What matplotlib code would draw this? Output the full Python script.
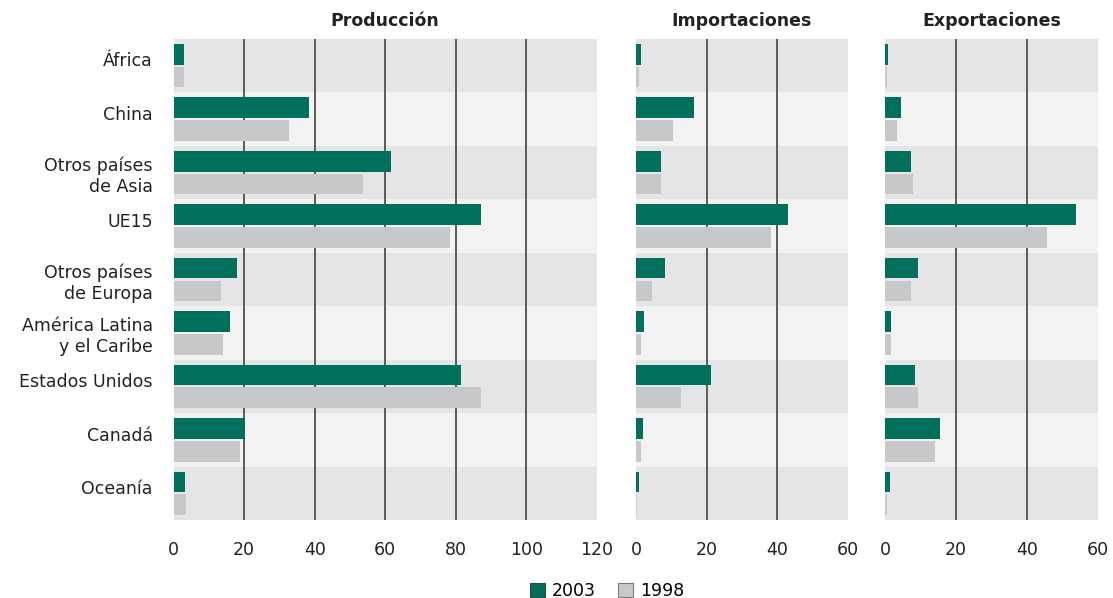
from matplotlib import pyplot as plt
from matplotlib.patches import Patch
import matplotlib.transforms as mtransforms
import numpy as np

plt.rcParams['font.family'] = ['DejaVu Sans']

# regions, top to bottom
regiones = ["África", "China", "Otros países\nde Asia", "UE15",
            "Otros países\nde Europa", "América Latina\ny el Caribe",
            "Estados Unidos", "Canadá", "Oceanía"]

prod_2003 = [3.1, 38.4, 61.7, 87.1, 18.0, 16.1, 81.5, 20.3, 3.4]
prod_1998 = [3.0, 32.7, 53.8, 78.3, 13.5, 14.0, 87.2, 18.9, 3.5]

imp_2003 = [1.5, 16.3, 7.1, 43.1, 8.2, 2.3, 21.1, 2.0, 0.8]
imp_1998 = [0.8, 10.4, 7.1, 38.3, 4.4, 1.5, 12.8, 1.5, 0.4]

exp_2003 = [0.8, 4.5, 7.3, 53.8, 9.4, 1.6, 8.5, 15.5, 1.3]
exp_1998 = [0.5, 3.4, 7.8, 45.5, 7.3, 1.6, 9.2, 14.2, 0.7]

paneles = [("Producción", prod_2003, prod_1998, [0, 20, 40, 60, 80, 100, 120]),
           ("Importaciones", imp_2003, imp_1998, [0, 20, 40, 60]),
           ("Exportaciones", exp_2003, exp_1998, [0, 20, 40, 60])]

verde = "#006f5c"
gris = "#c7c8ca"
banda_osc = "#e5e5e7"
banda_cla = "#f2f2f2"

W, H = 1113, 598
fig = plt.figure(figsize=(W / 100, H / 100), dpi=100)

# axes boxes in pixels: left, right
cajas = [(173.5, 597), (636, 848), (885, 1098)]
top, bottom = 39, 520

y = np.arange(len(regiones))
alto = 0.385
off = 0.213

for k, (titulo, v03, v98, ticks) in enumerate(paneles):
    l, r = cajas[k]
    ax = fig.add_axes([l / W, 1 - bottom / H, (r - l) / W, (bottom - top) / H])
    for i in y:
        ax.axhspan(i - 0.5, i + 0.5, color=banda_osc if i % 2 == 0 else banda_cla,
                   lw=0, zorder=0)
    for t in ticks[1:-1]:
        ax.axvline(t, color="#4f4f4f", lw=1.3, zorder=1)
    ax.barh(y - off, v03, height=alto, color=verde, zorder=2)
    ax.barh(y + off, v98, height=alto, color=gris, zorder=2)
    ax.set_xlim(ticks[0], ticks[-1])
    ax.set_ylim(len(regiones) - 0.5, -0.5)
    ax.set_xticks(ticks)
    ax.set_xticklabels([str(t) for t in ticks], fontsize=12.5, color="#222222")
    ax.tick_params(axis='x', length=0, pad=15)
    for s in ax.spines.values():
        s.set_visible(False)
    ax.set_title(titulo, fontsize=12.5, fontweight='bold', color="#222222", pad=9)
    if k == 0:
        ax.set_yticks(y)
        ax.set_yticklabels(regiones, fontsize=12.5, color="#222222", linespacing=1.25)
        ax.tick_params(axis='y', length=0, pad=15)
        # one-line labels sit a little above the row centre
        subir = mtransforms.ScaledTranslation(0, 4.5 / 72, fig.dpi_scale_trans)
        for lab in ax.get_yticklabels():
            if "\n" not in lab.get_text():
                lab.set_transform(lab.get_transform() + subir)
    else:
        ax.set_yticks([])

handles = [Patch(facecolor=verde, edgecolor="#2b4a40", lw=0.8, label="2003"),
           Patch(facecolor=gris, edgecolor="#7a7a7a", lw=0.8, label="1998")]
fig.legend(handles=handles, loc='center', bbox_to_anchor=(607 / W, 1 - 591 / H),
           ncol=2, frameon=False, fontsize=12.5, handlelength=0.85, handleheight=0.85,
           handletextpad=0.4, columnspacing=1.3)

fig.savefig("out.png", dpi=100)
